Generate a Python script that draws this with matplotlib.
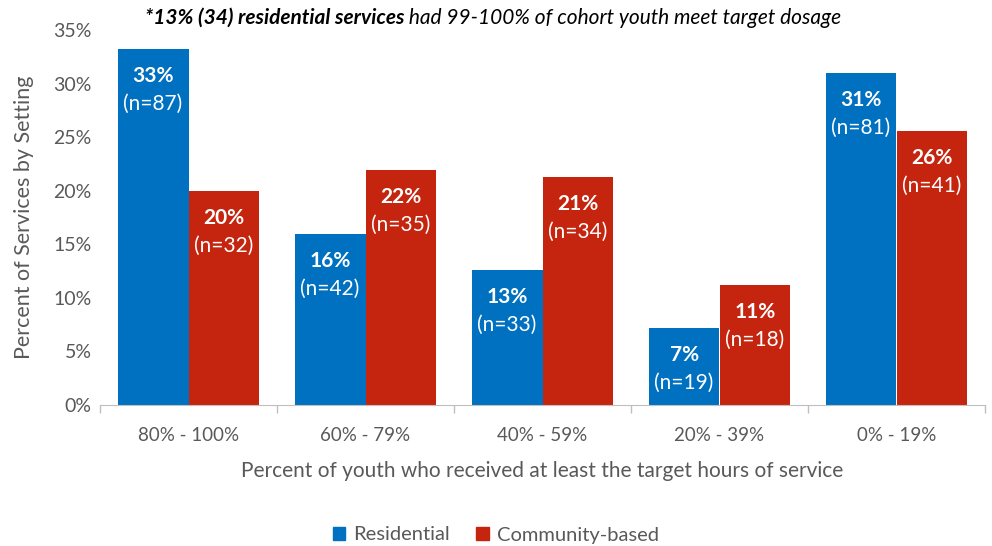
import matplotlib
matplotlib.use('Agg')
import matplotlib.pyplot as plt
import numpy as np
from matplotlib.patches import Patch

categories = ['80% - 100%', '60% - 79%', '40% - 59%', '20% - 39%', '0% - 19%']
residential = [33.2, 16.0, 12.6, 7.2, 31.0]
community = [20.0, 21.9, 21.3, 11.2, 25.6]
res_pct = ['33%', '16%', '13%', '7%', '31%']
com_pct = ['20%', '22%', '21%', '11%', '26%']
res_n = ['(n=87)', '(n=42)', '(n=33)', '(n=19)', '(n=81)']
com_n = ['(n=32)', '(n=35)', '(n=34)', '(n=18)', '(n=41)']

BLUE = '#0070C0'
RED = '#C5250E'
GREY = '#595959'

plt.rcParams['font.family'] = ['Lato', 'DejaVu Sans']

fig = plt.figure(figsize=(9.92, 5.46), dpi=100)
ax = fig.add_axes([100 / 992, 1 - 405 / 546, 885 / 992, 375 / 546])

x = np.arange(len(categories))
w = 0.4
ax.bar(x - w / 2, residential, w, color=BLUE)
ax.bar(x + w / 2, community, w, color=RED)

for i in range(len(categories)):
    for xx, val, p, n in [(x[i] - w / 2, residential[i], res_pct[i], res_n[i]),
                          (x[i] + w / 2, community[i], com_pct[i], com_n[i])]:
        ax.annotate(p, (xx, val), xytext=(0, -27), textcoords='offset pixels',
                    ha='center', va='center', color='white', fontsize=15,
                    fontweight='bold')
        ax.annotate(n, (xx, val), xytext=(0, -55), textcoords='offset pixels',
                    ha='center', va='center', color='white', fontsize=15)

ax.set_xlim(-0.5, len(categories) - 0.5)
ax.set_ylim(0, 35)
ax.set_yticks(range(0, 36, 5))
ax.set_yticklabels([f'{v}%' for v in range(0, 36, 5)])
ax.set_xticks(x)
ax.set_xticklabels(categories)
ax.set_xticks(np.arange(-0.5, len(categories)), minor=True)
ax.tick_params(axis='x', which='major', length=0, pad=16, labelsize=13.5, labelcolor=GREY)
ax.tick_params(axis='x', which='minor', length=6, color='#BFBFBF', width=1)
ax.tick_params(axis='y', length=0, pad=6, labelsize=14, labelcolor=GREY)

for s in ['top', 'right', 'left']:
    ax.spines[s].set_visible(False)
ax.spines['bottom'].set_color('#BFBFBF')

ax.set_xlabel('Percent of youth who received at least the target hours of service',
              fontsize=15, color=GREY, labelpad=12)
ax.set_ylabel('Percent of Services by Setting', fontsize=15.5, color=GREY, labelpad=14)

handles = [Patch(color=BLUE, label='Residential'), Patch(color=RED, label='Community-based')]
fig.legend(handles=handles, loc='center', bbox_to_anchor=(0.5, 1 - 535 / 546),
           ncol=2, frameon=False, fontsize=14.5, handlelength=0.6, handleheight=0.6,
           handletextpad=0.4, columnspacing=1.3, labelcolor=GREY)

# title in two styles
fig.canvas.draw()
r = fig.canvas.get_renderer()
t1 = fig.text(0, 1 - 18 / 546, '*13% (34) residential services', fontsize=15,
              fontweight='bold', style='italic', va='center', ha='left')
t2 = fig.text(0, 1 - 18 / 546, ' had 99-100% of cohort youth meet target dosage',
              fontsize=15, style='italic', va='center', ha='left')
w1 = t1.get_window_extent(r).width
w2 = t2.get_window_extent(r).width
start = (493 - (w1 + w2) / 2) / 992
t1.set_x(start)
t2.set_x(start + w1 / 992)

fig.savefig('out.png', dpi=100)
